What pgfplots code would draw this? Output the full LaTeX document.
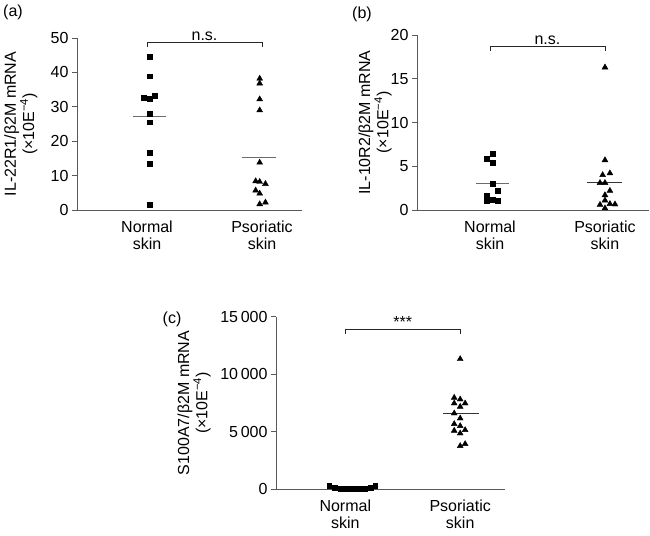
\documentclass[border=0pt]{standalone}
\usepackage{fontspec}
\setmainfont{Liberation Sans}
\usepackage{pgfplots}
\pgfplotsset{compat=1.18}
\definecolor{axgray}{gray}{0.35}
\definecolor{meangray}{gray}{0.42}
\pgfplotsset{
  panel/.style={
    scale only axis,
    axis x line=bottom, axis y line=left,
    axis line style={-, axgray, line width=0.9bp},
    ytick style={axgray, line width=0.9bp},
    tick align=outside, major tick length=5bp,
    xtick={1,2}, xtick style={draw=none},
    xticklabels={Normal\\skin, Psoriatic\\skin},
    xticklabel style={align=center, font=\fontsize{16bp}{17bp}\selectfont, yshift=-2bp},
    yticklabel style={font=\fontsize{16bp}{17bp}\selectfont},
    ylabel style={font=\fontsize{16bp}{17bp}\selectfont, align=center, anchor=center, rotate=0},
    clip=false, ymin=0, scaled y ticks=false,
  },
  sq/.style={only marks, mark=square*, mark size=2.4bp, black},
  tri/.style={only marks, mark=triangle*, mark size=3.4bp, black},
  meanl/.style={meangray, line width=1.3bp, forget plot},
}
\begin{document}
\begin{tikzpicture}
\useasboundingbox (0bp,0bp) rectangle (650bp,536bp);
\node[font=\fontsize{16bp}{17bp}\selectfont] at (13bp,524bp) {(a)};
\node[font=\fontsize{16bp}{17bp}\selectfont] at (362bp,522bp) {(b)};
\node[font=\fontsize{16bp}{17bp}\selectfont] at (172bp,217bp) {(c)};

% (a)
\begin{axis}[panel, at={(77bp,326bp)}, anchor=south west, width=225bp, height=172bp,
  xmin=0.391, xmax=2.348, ymax=50,
  ytick={0,10,20,30,40,50}, yticklabels={0,10,20,30,40,50},
  ylabel={IL-22R1/β2M mRNA\\(×10E\textsuperscript{−4})},
  ylabel style={at={(axis description cs:-0.25,0.5)}}]
\addplot[sq] coordinates {(1.02,44.5) (1.02,38.9) (0.97,32.7) (1.02,32.4) (1.07,33.2) (1.02,28.0) (1.02,25.5) (1.02,16.7) (1.02,13.4) (1.02,1.6)};
\addplot[tri] coordinates {(1.98,38.2) (1.98,36.8) (1.98,32.2) (1.98,29.0) (1.98,13.8) (1.945,8.4) (1.98,8.2) (2.03,7.6) (1.945,5.7) (1.98,4.8) (1.98,1.7) (2.03,2.2)};
\addplot[meanl] coordinates {(0.88,27.1) (1.165,27.1)};
\addplot[meanl] coordinates {(1.83,15.2) (2.12,15.2)};
\draw[black!85, line width=0.8bp] (axis cs:1,48.8) ++(0bp,-4.5bp) -- ++(0bp,4.5bp) -- (axis cs:2,48.8) -- ++(0bp,-4.5bp);
\node[anchor=south, inner sep=1.5bp, font=\fontsize{16bp}{17bp}\selectfont] at (axis cs:1.5,48.8) {n.s.};
\end{axis}

% (b)
\begin{axis}[panel, at={(417bp,326bp)}, anchor=south west, width=232bp, height=175bp,
  xmin=0.365, xmax=2.383, ymax=20,
  ytick={0,5,10,15,20}, yticklabels={0,5,10,15,20},
  ylabel={IL-10R2/β2M mRNA\\(×10E\textsuperscript{−4})},
  ylabel style={at={(axis description cs:-0.181,0.5)}}]
\addplot[sq] coordinates {(0.97,5.9) (1.02,6.4) (1.02,5.4) (1.02,3.0) (1.07,2.2) (0.97,1.7) (1.02,1.2) (1.07,1.07) (0.97,1.0) (0.97,1.4)};
\addplot[tri] coordinates {(2.0,16.3) (2.0,5.7) (1.98,4.0) (2.043,4.2) (1.957,3.1) (2.0,3.1) (2.043,2.2) (2.0,1.7) (2.0,1.1) (1.957,0.6) (2.043,0.7) (2.0,0.2) (2.087,0.65)};
\addplot[meanl] coordinates {(0.876,3.0) (1.165,3.0)};
\addplot[meanl, black!80] coordinates {(1.84,3.16) (2.15,3.16)};
\draw[black!85, line width=0.8bp] (axis cs:1,18.7) ++(0bp,-4.5bp) -- ++(0bp,4.5bp) -- (axis cs:2,18.7) -- ++(0bp,-4.5bp);
\node[anchor=south, inner sep=1.5bp, font=\fontsize{16bp}{17bp}\selectfont] at (axis cs:1.5,18.7) {n.s.};
\end{axis}

% (c)
\begin{axis}[panel, at={(276bp,46.7bp)}, anchor=south west, width=229bp, height=172.6bp,
  xmin=0.397, xmax=2.39, ymax=15000,
  ytick={0,5000,10000,15000}, yticklabels={0,5\,000,10\,000,15\,000},
  ylabel={S100A7/β2M mRNA\\(×10E\textsuperscript{−4})},
  ylabel style={at={(axis description cs:-0.358,0.5)}}]
\addplot[meanl] coordinates {(0.87,110) (1.22,110)};
\addplot[sq] coordinates {(0.86,287) (0.91,113) (0.96,58) (1.0,50) (1.04,50) (1.09,50) (1.13,58) (1.17,80) (1.22,170) (1.26,287)};
\addplot[tri] coordinates {(2.0,11323) (1.948,7964) (2.0,7819) (1.948,7472) (2.043,7472) (2.0,7182) (1.948,6603) (2.0,6168) (1.948,5676) (2.0,5502) (1.948,5097) (2.043,5155) (2.0,4865) (2.0,3765) (2.043,3939)};
\addplot[meanl, black!80] coordinates {(1.85,6603) (2.16,6603)};
\draw[black!85, line width=0.8bp] (axis cs:1,13930) ++(0bp,-4.5bp) -- ++(0bp,4.5bp) -- (axis cs:2,13930) -- ++(0bp,-4.5bp);
\node[anchor=south, inner sep=1.5bp, font=\fontsize{16bp}{17bp}\selectfont] at (axis cs:1.5,13930) {***};
\end{axis}
\end{tikzpicture}
\end{document}
